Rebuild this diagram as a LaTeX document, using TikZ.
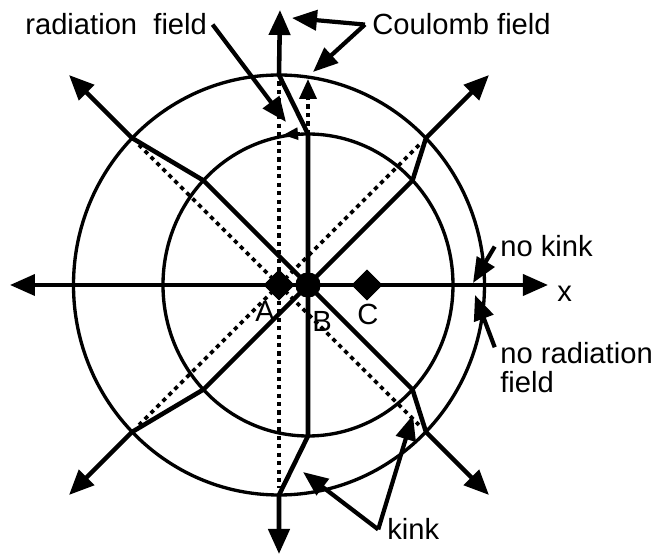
\documentclass[tikz,border=0pt]{standalone}
\usepackage{fontspec}
\setmainfont{Liberation Sans}
\usetikzlibrary{arrows.meta,shapes.geometric}

\begin{document}
\begin{tikzpicture}[every node/.style={font=\fontsize{16.6}{14.7}\selectfont, inner sep=0pt},
    shell/.style={line width=1.9pt},
    fieldline/.style={line width=2.6pt, -{Triangle[length=0.5cm,width=0.42cm]}},
    ghostline/.style={line width=2.2pt, dash pattern=on 2.4pt off 2.4pt},
    pointer/.style={line width=2.4pt, -{Triangle[length=0.5cm,width=0.4cm]}},
    charge/.style={diamond, fill=black, minimum width=0.62cm, minimum height=0.62cm}]

  \useasboundingbox (-6.16,-5.42) rectangle (6.88,5.7);

  % ==================================================
  % Shells (inner one round B, outer one round A)
  % ==================================================
  \draw[shell] (0,0) ellipse [x radius=2.9, y radius=3.02];
  \draw[shell] (-0.58,0) ellipse [x radius=4.11, y radius=4.2];

  % -- Charges
  \node[charge] (A) at (-0.58,0) {};
  \node[circle, fill=black, minimum size=0.5cm] (B) at (0,0) {};
  \node[charge] (C) at (1.18,0) {};

  % -- Kink points on the inner shell
  \coordinate (iUR) at (2.09,2.09);
  \coordinate (iUL) at (-2.09,2.09);
  \coordinate (iLL) at (-2.09,-2.09);
  \coordinate (iLR) at (2.09,-2.09);
  \coordinate (iT) at (0,3.02);
  \coordinate (iB) at (0,-3.02);
  % -- Kink points on the outer shell
  \coordinate (oUR) at (2.36,2.94);
  \coordinate (oUL) at (-3.52,2.94);
  \coordinate (oLL) at (-3.52,-2.94);
  \coordinate (oLR) at (2.36,-2.94);
  \coordinate (oT) at (-0.58,4.2);
  \coordinate (oB) at (-0.58,-4.2);
  % -- Arrow tips outside
  \coordinate (tUR) at (3.62,4.2);
  \coordinate (tUL) at (-4.78,4.2);
  \coordinate (tLL) at (-4.78,-4.2);
  \coordinate (tLR) at (3.62,-4.2);
  \coordinate (tT) at (-0.56,5.5);
  \coordinate (tB) at (-0.58,-5.38);
  % -- Ends of the dotted lines from A
  \coordinate (gUR) at (2.22,2.8);
  \coordinate (gUL) at (-3.38,2.8);
  \coordinate (gLL) at (-3.38,-2.8);
  \coordinate (gLR) at (2.22,-2.8);
  \coordinate (gAT) at (-0.58,4.07);
  \coordinate (gAB) at (-0.58,-4.07);
  \coordinate (gT) at (0,4.12);

  % ==================================================
  % Dotted lines (field of A continued)
  % ==================================================
  \draw[ghostline] (A.center) -- (gUR);
  \draw[ghostline] (A.center) -- (gUL);
  \draw[ghostline] (A.center) -- (gLL);
  \draw[ghostline] (A.center) -- (gLR);
  \draw[ghostline] (gAT) -- (gAB);
  \draw[ghostline, -{Triangle[length=0.4cm,width=0.34cm]}] (iT) -- (gT);

  % ==================================================
  % Field lines with kinks
  % ==================================================
  \draw[fieldline] (B.center) -- (iUR) -- (oUR) -- (tUR);
  \draw[fieldline] (B.center) -- (iUL) -- (oUL) -- (tUL);
  \draw[fieldline] (B.center) -- (iLL) -- (oLL) -- (tLL);
  \draw[fieldline] (B.center) -- (iLR) -- (oLR) -- (tLR);
  \draw[fieldline] (B.center) -- (iT) -- (oT) -- (tT);
  \draw[fieldline] (B.center) -- (iB) -- (oB) -- (tB);

  % -- x axis
  \coordinate (xl) at (-5.96,0);
  \coordinate (xr) at (4.8,0);
  \draw[line width=2.2pt, {Triangle[length=0.5cm,width=0.42cm]}-{Triangle[length=0.5cm,width=0.42cm]}] (xl) -- (xr);

  % -- small arrow on the inner shell
  \coordinate (radtail) at (-0.16,3.03);
  \coordinate (radhead) at (-0.5,3.0);
  \draw[line width=1.6pt, -{Triangle[length=0.3cm,width=0.24cm]}] (radtail) -- (radhead);

  % -- charges on top
  \node[charge] at (A) {};
  \node[circle, fill=black, minimum size=0.5cm] at (B) {};
  \node[charge] at (C) {};

  % ==================================================
  % Labels and pointers
  % ==================================================
  \node[anchor=base west] (Alabel) at (-1.06,-0.74) {A};
  \node[anchor=base west] (Blabel) at (0.08,-0.94) {B};
  \node[anchor=base west] (Clabel) at (0.98,-0.8) {C};
  \node[anchor=base west] (xlabel) at (4.98,-0.34) {x};

  \node[anchor=base west] (radlabel) at (-5.66,5.0) {radiation\ \ field};
  \node[anchor=base west] (coulomb) at (1.28,5.0) {Coulomb field};
  \node[anchor=base west] (nokink) at (3.84,0.56) {no kink};
  \node[anchor=north west, align=left, font=\fontsize{16.6}{16.4}\selectfont] (norad) at (3.84,-1.14) {no radiation\\field};
  \node[anchor=base west] (kinklabel) at (1.58,-5.1) {kink};

  \coordinate (radtip) at (-0.44,3.26);
  \coordinate (coultipA) at (-0.32,5.34);
  \coordinate (coultipB) at (0.1,4.26);
  \coordinate (nokinktip) at (3.3,0.04);
  \coordinate (noradtip) at (3.34,-0.2);
  \coordinate (kinktipA) at (2.1,-2.6);
  \coordinate (kinktipB) at (-0.1,-3.74);

  \draw[pointer] ([xshift=3pt]radlabel.east) -- (radtip);
  \draw[pointer] ([xshift=-4pt]coulomb.west) -- (coultipA);
  \draw[pointer] ([xshift=-4pt]coulomb.west) -- (coultipB);
  \draw[pointer] ([xshift=-3pt]nokink.west) -- (nokinktip);
  \draw[pointer] ([xshift=-3pt,yshift=-3pt]norad.north west) -- (noradtip);
  \draw[pointer] ([xshift=-5pt]kinklabel.west) -- (kinktipA);
  \draw[pointer] ([xshift=-5pt]kinklabel.west) -- (kinktipB);

\end{tikzpicture}
\end{document}
